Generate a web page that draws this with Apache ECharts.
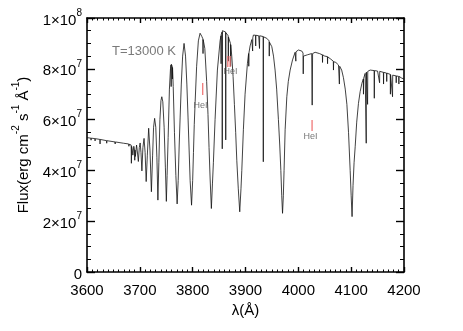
<!DOCTYPE html>
<html>
<head>
<meta charset="utf-8">
<script src="https://cdn.jsdelivr.net/npm/echarts@6/dist/echarts.min.js"></script>
<style>html,body{margin:0;padding:0;background:#fff}#c{width:463px;height:331px}</style>
</head>
<body>
<div id="c"></div>
<script>
// Wavelength (Å) vs flux (units of 1e7 erg cm^-2 s^-1 Å^-1)
var continuumBlue = [
  [3600,5.29],[3607.4,5.27],[3607.7,5.19],[3608.0,5.27],[3615.0,5.25],[3615.3,5.16],[3615.6,5.25],
  [3624.4,5.22],[3624.7,5.04],[3625.0,5.22],[3637.0,5.17],[3637.3,5.07],[3637.6,5.17],
  [3653.0,5.12],[3653.3,5.04],[3653.6,5.12],[3669.0,5.07],[3669.3,5.0],[3669.6,5.07],
  [3679.0,5.04],[3679.3,4.95],[3679.6,5.03],[3683.6,5.0],[3684.0,4.28],[3684.4,4.95]
];
var balmerConvergence = [
  [3685.5,4.85],[3686.8,4.6],[3688.6,4.95],[3690.0,4.8],[3690.4,4.4],[3690.8,4.8],[3691.6,4.55],
  [3693.8,5.0],[3695.0,4.8],[3697.2,4.35],[3699.0,4.9],[3700.6,5.08],[3702.2,4.7],[3703.9,3.98],
  [3705.8,4.9],[3708.0,5.26],[3710.0,4.7],[3712.0,3.56],[3714.2,4.6],[3716.7,5.66],[3719.2,4.8],
  [3721.9,3.16],[3724.2,4.6],[3726.0,5.7],[3728.0,6.05],[3730.2,5.7],[3732.3,4.5],[3734.2,2.83],
  [3736.0,4.3],[3738.0,6.0],[3740.0,6.75],[3741.6,6.9],[3743.5,6.7],[3746.0,5.7],[3748.4,4.1],[3750.2,2.78]
];
var h12toH9 = [
  [3751.6,3.8],[3753.6,5.3],[3756.0,7.2],[3758.0,8.0],[3759.0,8.15],[3759.3,7.3],[3759.6,8.18],[3760.5,8.2],
  [3761.3,8.1],[3761.6,7.6],[3761.9,8.05],[3763.2,7.3],[3765.5,5.5],[3768.2,3.8],[3770.6,2.68],
  [3772.6,3.6],[3774.5,5.0],[3776.3,6.1],[3778.5,7.4],[3781.0,8.5],[3783.7,9.0],[3786.5,8.5],[3789.0,7.4],
  [3791.2,6.1],[3793.0,5.0],[3795.2,3.6],[3797.9,2.63],
  [3800.0,3.6],[3801.5,4.7],[3803.0,5.8],[3804.7,6.7],[3807.5,8.1],[3810.8,9.1],[3814.0,9.4],[3817.2,9.28],
  [3819.3,9.18],[3819.6,8.6],[3819.9,9.15],[3823.0,8.8],[3826.5,7.5],[3829.0,6.2],[3831.0,4.9],[3833.0,3.7],[3835.4,2.5]
];
var h9toH8 = [
  [3837.5,3.5],[3839.2,4.3],[3842.4,6.0],[3846.8,7.95],[3851.9,9.1],[3853.5,9.3],[3853.8,8.2],[3854.1,9.35],
  [3855.7,9.45],[3856.0,4.85],[3856.3,9.5],[3858.1,9.55],[3860.0,9.5],[3862.3,9.45],[3862.6,5.2],[3862.9,9.42],
  [3865.0,9.35],[3867.2,9.3],[3867.5,8.3],[3867.8,9.25],[3871.5,9.0],[3871.8,8.1],[3872.1,8.95],[3874.0,8.5],
  [3876.5,7.7],[3879.0,6.6],[3881.4,5.5],[3883.5,4.4],[3886.3,3.3],[3889.1,2.37]
];
var h8toHeps = [
  [3891.5,3.3],[3893.0,4.0],[3896.0,5.6],[3899.2,7.0],[3903.6,8.2],[3905.9,8.6],[3906.2,8.1],[3906.5,8.62],
  [3908.7,8.9],[3912.0,9.15],[3913.2,9.2],[3913.5,8.7],[3913.8,9.22],[3915.0,9.33],[3919.0,9.32],[3919.3,8.9],
  [3919.6,9.32],[3925.0,9.3],[3926.2,9.3],[3926.5,8.8],[3926.8,9.3],[3933.4,9.27],[3933.7,4.34],[3934.0,9.26],
  [3940.3,9.2],[3944.7,9.1],[3945.0,8.5],[3945.3,9.05],[3949.8,8.87],[3953.0,8.5],[3956.0,7.95],[3959.0,7.2],
  [3962.3,6.0],[3964.8,5.0],[3966.9,4.0],[3968.6,3.0],[3970.1,2.31]
];
var hepsToHdelta = [
  [3971.6,3.0],[3973.0,4.0],[3975.0,5.6],[3978.2,6.9],[3981.0,7.5],[3984.5,7.95],[3989.0,8.35],[3993.9,8.65],
  [3995.0,8.66],[3995.3,8.3],[3995.6,8.67],[4000.0,8.74],[4003.4,8.77],[4006.5,8.7],[4008.9,8.62],[4009.3,7.8],
  [4009.7,8.5],[4012.0,8.5],[4017.0,8.55],[4025.3,8.6],[4026.2,6.57],[4027.0,8.6],[4031.8,8.65],[4040.0,8.6],
  [4045.5,8.55],[4045.8,8.25],[4046.1,8.55],[4050.0,8.5],[4055.0,8.48],[4055.3,8.2],[4055.6,8.47],[4060.2,8.4],
  [4066.2,8.3],[4066.5,7.95],[4066.8,8.28],[4071.0,8.25],[4076.0,8.15],[4077.7,7.4],[4078.3,8.1],[4082.0,7.95],
  [4085.4,7.65],[4088.8,7.2],[4091.9,6.6],[4095.0,5.5],[4098.1,4.0],[4100.0,3.0],[4101.7,2.18]
];
var hdeltaRed = [
  [4103.5,3.4],[4105.5,4.3],[4107.6,4.93],[4110.5,5.9],[4113.8,6.64],[4117.0,7.1],[4120.3,7.43],[4123.0,7.6],
  [4123.3,7.0],[4123.6,7.62],[4126.5,7.82],[4128.2,7.85],[4128.5,5.07],[4128.8,7.87],[4130.8,7.9],[4131.1,6.6],
  [4131.4,7.9],[4136.0,7.95],[4143.4,7.93],[4143.8,6.84],[4144.2,7.93],[4150.0,7.91],[4153.5,7.9],[4153.8,7.45],
  [4154.1,7.9],[4161.0,7.86],[4161.3,7.4],[4161.6,7.86],[4167.0,7.83],[4167.3,7.5],[4167.6,7.83],[4174.0,7.78],
  [4174.3,7.0],[4174.6,7.77],[4178.0,7.76],[4178.3,6.9],[4178.6,7.75],[4185.0,7.72],[4185.3,7.45],[4185.6,7.72],
  [4190.0,7.7],[4190.3,7.4],[4190.6,7.7],[4196.0,7.63],[4200.0,7.6]
];
// HeI marker segments [lambda, fluxLow, fluxHigh] and label positions
var heMarkers = [[3819,6.97,7.44],[3866.5,8.07,8.5],[3870.8,8.07,8.5],[4026,5.55,5.98]];
var heLabels = [[3815,6.57],[3871.5,7.89],[4023,5.35]];
var xTicks = [3600,3700,3800,3900,4000,4100,4200];
var yTicks = [0,2,4,6,8,10];

var spectrum = [].concat(continuumBlue, balmerConvergence, h12toH9, h9toH8, h8toHeps, hepsToHdelta, hdeltaRed);
var FONT = '"Liberation Sans", Arial, Helvetica, sans-serif';

var chart = echarts.init(document.getElementById('c'), null, {renderer:'canvas'});
function xAx(pos, labels){
  return {
    type:'value', position:pos, min:xTicks[0], max:xTicks[xTicks.length-1], interval:100,
    axisLine:{show:true, onZero:false, lineStyle:{color:'#000', width:1.6}},
    axisTick:{show:true, inside:true, length:5, lineStyle:{color:'#000', width:1.4}},
    minorTick:{show:true, splitNumber:10, length:2.5, lineStyle:{color:'#000', width:1}},
    splitLine:{show:false},
    axisLabel:{show:labels, color:'#000', fontSize:15, fontFamily:FONT, margin:11,
      formatter:function(v){ return String(v); }},
    name: labels ? 'λ(Å)' : '', nameLocation:'middle', nameGap:31,
    nameTextStyle:{color:'#000', fontSize:15, fontFamily:FONT}
  };
}
function yAx(pos, labels){
  return {
    type:'value', position:pos, min:yTicks[0], max:yTicks[yTicks.length-1], interval:2,
    axisLine:{show:true, onZero:false, lineStyle:{color:'#000', width:1.6}},
    axisTick:{show:true, inside:true, length:8, lineStyle:{color:'#000', width:1.4}},
    minorTick:{show:true, splitNumber:4, length:4, lineStyle:{color:'#000', width:1}},
    splitLine:{show:false},
    axisLabel:{show:labels, margin:5,
      formatter:function(v){ if(v===0) return '{b|0}'; if(v===10) return '{b|1×10}{s|8}'; return '{b|'+v+'×10}{s|7}'; },
      rich:{
        b:{fontSize:15, color:'#000', fontFamily:FONT, lineHeight:20, verticalAlign:'bottom'},
        s:{fontSize:10, color:'#000', fontFamily:FONT, lineHeight:10, verticalAlign:'top'}
      }
    },
    name: labels ? '{b|Flux(erg cm}{s|-2}{b| s}{s|-1}{b| Å}{s|-1}{b|)}' : '',
    nameLocation:'middle', nameGap:56, nameRotate:90,
    nameTextStyle:{
      rich:{
        b:{fontSize:15, color:'#000', fontFamily:FONT, lineHeight:20, verticalAlign:'bottom'},
        s:{fontSize:10, color:'#000', fontFamily:FONT, lineHeight:10, verticalAlign:'top'}
      }
    }
  };
}

var series = [{
  type:'line', data:spectrum, xAxisIndex:0, yAxisIndex:0, showSymbol:false, symbol:'none',
  lineStyle:{color:'#111', width:0.8}, clip:true, silent:true, z:3
}];
heMarkers.forEach(function(m){
  series.push({type:'line', data:[[m[0],m[1]],[m[0],m[2]]], xAxisIndex:0, yAxisIndex:0, symbol:'none',
    lineStyle:{color:'#f07878', width:1.3}, silent:true, z:4});
});
series.push({type:'scatter', data:heLabels, xAxisIndex:0, yAxisIndex:0, symbolSize:0.01, silent:true,
  label:{show:true, position:'inside', formatter:'HeI', fontSize:9, color:'#555', fontFamily:FONT}, z:4});

chart.setOption({
  animation:false,
  backgroundColor:'#fff',
  grid:{left:87, right:59, top:18, bottom:59, containLabel:false},
  xAxis:[xAx('bottom', true), xAx('top', false)],
  yAxis:[yAx('left', true), yAx('right', false)],
  graphic:[{type:'text', left:112, top:45, style:{text:'T=13000 K', fill:'#7a7a7a', fontSize:13, fontFamily:FONT}}],
  series:series
});
</script>
</body>
</html>
